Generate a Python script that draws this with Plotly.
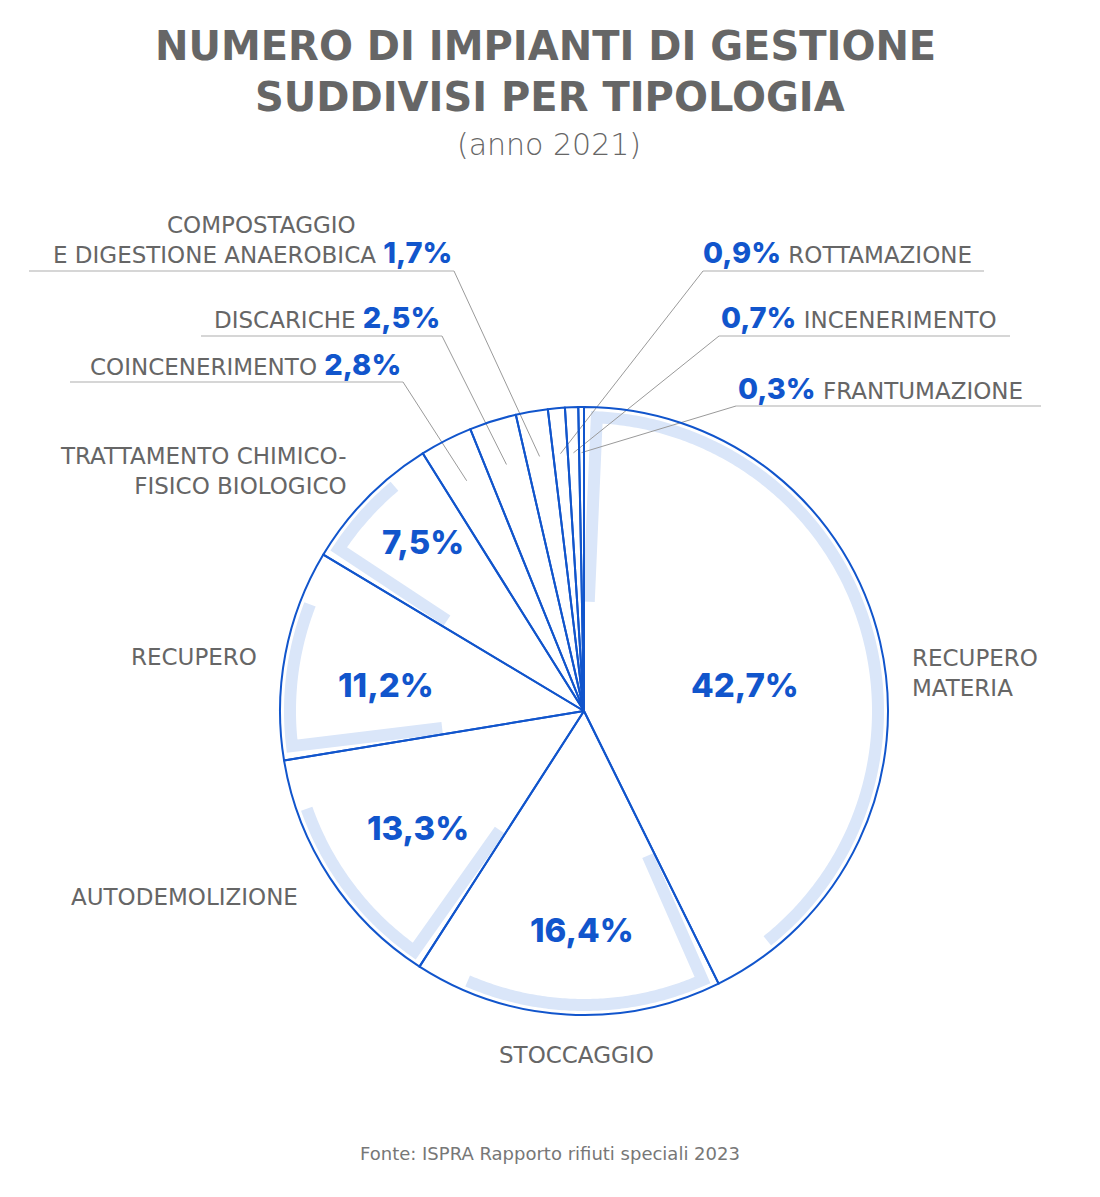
import math
import plotly.graph_objects as go

# ---------------- data ----------------
categories = [
    "RECUPERO MATERIA", "STOCCAGGIO", "AUTODEMOLIZIONE", "RECUPERO",
    "TRATTAMENTO CHIMICO-FISICO BIOLOGICO", "COINCENERIMENTO", "DISCARICHE",
    "COMPOSTAGGIO E DIGESTIONE ANAEROBICA", "ROTTAMAZIONE", "INCENERIMENTO",
    "FRANTUMAZIONE",
]
shares = [42.7, 16.4, 13.3, 11.2, 7.5, 2.8, 2.5, 1.7, 0.9, 0.7, 0.3]

title_lines = ["NUMERO DI IMPIANTI DI GESTIONE", "SUDDIVISI PER TIPOLOGIA"]
subtitle = "(anno 2021)"
source = "Fonte: ISPRA Rapporto rifiuti speciali 2023"

# ---------------- style / layout config ----------------
W, H = 1100, 1197
CX, CY, R = 584, 711, 304
BLUE = "#1155cc"
LIGHT = "#dae6f9"
GREY = "#666666"
NAME_FONT = "DejaVu Sans"
PCT_FONT = "Inter"

pct_text = [f"{v:.1f}%".replace(".", ",") for v in shares]

# angles (degrees clockwise from 12 o'clock)
total = sum(shares)
starts, ends = [], []
acc = 0.0
for v in shares:
    starts.append(acc / total * 360.0)
    acc += v
    ends.append(acc / total * 360.0)


def pt(theta, r):
    t = math.radians(theta)
    return CX + r * math.sin(t), CY - r * math.cos(t)


fig = go.Figure()

# light-blue inner decorations for the five big slices
band_inner = [0.36, 0.52, 0.48, 0.47, 0.54]   # inner radius of radial stroke (fraction of R)
band_span = [0.92, 0.84, 0.79, 0.76, 0.70]    # fraction of slice covered by the arc
BAND_OFF = 2.5
BAND_R = 294
bx, by = [], []
for i in range(len(band_inner)):
    a0 = starts[i] + BAND_OFF
    a1 = starts[i] + band_span[i] * (ends[i] - starts[i])
    x, y = pt(a0, band_inner[i] * R)
    bx.append(x); by.append(y)
    n = max(2, int((a1 - a0) / 0.5))
    for k in range(n + 1):
        a = a0 + (a1 - a0) * k / n
        x, y = pt(a, BAND_R)
        bx.append(x); by.append(y)
    bx.append(None); by.append(None)
fig.add_trace(go.Scatter(x=bx, y=by, mode="lines",
                         line=dict(color=LIGHT, width=12, simplify=False),
                         hoverinfo="skip", showlegend=False))

# pie outline
fig.add_trace(go.Pie(
    values=shares, labels=categories, sort=False, direction="clockwise", rotation=0,
    marker=dict(colors=["rgba(0,0,0,0)"] * len(shares), line=dict(color=BLUE, width=2)),
    textinfo="none",
    domain=dict(x=[(CX - R) / W, (CX + R) / W], y=[1 - (CY + R) / H, 1 - (CY - R) / H]),
    hovertemplate="%{label}: %{value}%<extra></extra>",
    showlegend=False,
))

annotations = []

# inside percentage labels (big slices)
lab_frac = [0.526, 0.454, 0.46, 0.42, 0.57]
lab_r = [0.536, 0.72, 0.668, 0.657, 0.767]
for i in range(len(lab_frac)):
    a = starts[i] + lab_frac[i] * (ends[i] - starts[i])
    x, y = pt(a, lab_r[i] * R)
    annotations.append(dict(x=x, y=y, xref="x", yref="y", text=pct_text[i], showarrow=False,
                            font=dict(family=PCT_FONT, size=33, color=BLUE, weight=800),
                            xanchor="center", yanchor="middle"))

# outside names of big slices
big_names = [
    dict(text="RECUPERO<br>MATERIA", x=910, y=673, xanchor="left", align="left"),
    dict(text="STOCCAGGIO", x=576, y=1055, xanchor="center", align="center"),
    dict(text="AUTODEMOLIZIONE", x=300, y=897, xanchor="right", align="right"),
    dict(text="RECUPERO", x=259, y=657, xanchor="right", align="right"),
    dict(text="TRATTAMENTO CHIMICO-<br>FISICO BIOLOGICO", x=349, y=471, xanchor="right", align="right"),
]
for d in big_names:
    annotations.append(dict(xref="x", yref="y", showarrow=False, yanchor="middle",
                            font=dict(family=NAME_FONT, size=23, color=GREY), **d))


def pct_span(s):
    return (f'<span style="font-family:{PCT_FONT};font-weight:800;font-size:29px;'
            f'color:{BLUE}">{s}</span>')


# small slices: labels with underline + leader
small = [
    # idx, side, text-anchor x, text mid y, underline x0, x1, underline y
    (5, "L", 403, 364, 70, 403, 382),
    (6, "L", 442, 317, 201, 442, 336),
    (7, "L", 454, 252, 29, 454, 271),
    (8, "R", 701, 252, 703, 984, 271),
    (9, "R", 719, 317, 719, 1010, 336),
    (10, "R", 736, 388, 736, 1041, 406),
]
short_names = {5: "COINCENERIMENTO", 6: "DISCARICHE", 7: "E DIGESTIONE ANAEROBICA",
               8: "ROTTAMAZIONE", 9: "INCENERIMENTO", 10: "FRANTUMAZIONE"}
ux, uy, lx, ly = [], [], [], []
for idx, side, tx, ty, x0, x1, yu in small:
    if side == "L":
        txt = f"{short_names[idx]} {pct_span(pct_text[idx])}"
        annotations.append(dict(x=tx, y=ty, xref="x", yref="y", text=txt, showarrow=False,
                                xanchor="right", yanchor="middle",
                                font=dict(family=NAME_FONT, size=23, color=GREY)))
        sx = x1
    else:
        txt = f"{pct_span(pct_text[idx])} {short_names[idx]}"
        annotations.append(dict(x=tx, y=ty, xref="x", yref="y", text=txt, showarrow=False,
                                xanchor="left", yanchor="middle",
                                font=dict(family=NAME_FONT, size=23, color=GREY)))
        sx = x0
    ux += [x0, x1, None]; uy += [yu, yu, None]
    mid = (starts[idx] + ends[idx]) / 2
    ex, ey = pt(mid, 0.85 * R)
    lx += [sx, ex, None]; ly += [yu, ey, None]

annotations.append(dict(x=358, y=225, xref="x", yref="y", text="COMPOSTAGGIO", showarrow=False,
                        xanchor="right", yanchor="middle",
                        font=dict(family=NAME_FONT, size=23, color=GREY)))

fig.add_trace(go.Scatter(x=ux, y=uy, mode="lines", line=dict(color="#d6d6d6", width=2),
                         hoverinfo="skip", showlegend=False))
fig.add_trace(go.Scatter(x=lx, y=ly, mode="lines", line=dict(color="#9a9a9a", width=1),
                         hoverinfo="skip", showlegend=False))

# titles
annotations.append(dict(x=545, y=46, xref="x", yref="y", text=title_lines[0], showarrow=False,
                        xanchor="center", yanchor="middle",
                        font=dict(family="DejaVu Sans", size=40, color=GREY, weight=700)))
annotations.append(dict(x=550, y=97, xref="x", yref="y", text=title_lines[1], showarrow=False,
                        xanchor="center", yanchor="middle",
                        font=dict(family="DejaVu Sans", size=40, color=GREY, weight=700)))
annotations.append(dict(x=549, y=144, xref="x", yref="y", text=subtitle, showarrow=False,
                        xanchor="center", yanchor="middle",
                        font=dict(family="DejaVu Sans", size=30, color=GREY, weight=300)))
annotations.append(dict(x=550, y=1153, xref="x", yref="y", text=source, showarrow=False,
                        xanchor="center", yanchor="middle",
                        font=dict(family="DejaVu Sans", size=18, color="#777777")))

fig.update_layout(
    width=W, height=H, margin=dict(l=0, r=0, t=0, b=0),
    paper_bgcolor="white", plot_bgcolor="white", showlegend=False,
    xaxis=dict(range=[0, W], domain=[0, 1], visible=False, fixedrange=True),
    yaxis=dict(range=[H, 0], domain=[0, 1], visible=False, fixedrange=True),
    annotations=annotations,
)

fig.write_html("out.html", config={"displayModeBar": False},
               post_script="document.body.style.margin='0';")
